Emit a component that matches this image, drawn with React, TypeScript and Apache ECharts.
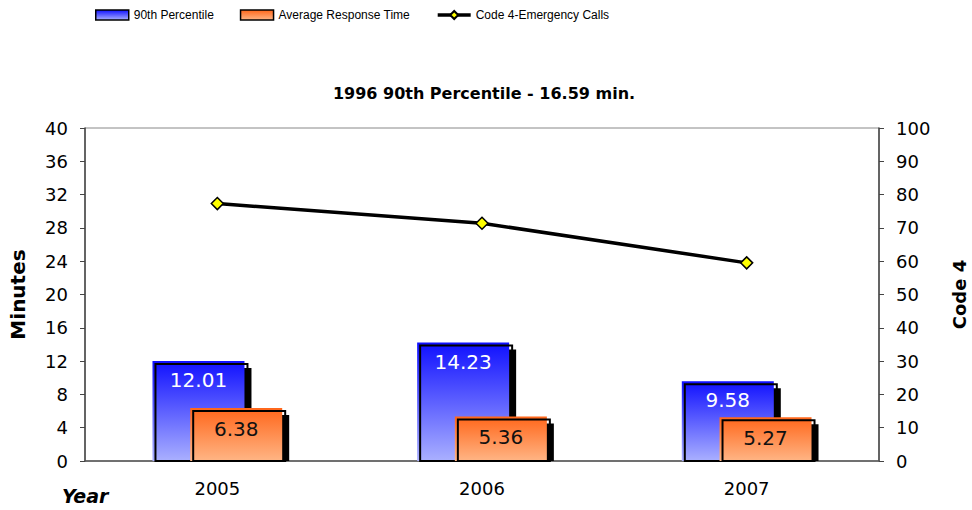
import React, { useEffect, useRef } from "react";
import * as echarts from "echarts";

const categories = ["2005", "2006", "2007"];
const p90Values = [12.01, 14.23, 9.58];
const avgValues = [6.38, 5.36, 5.27];
const code4Values = [77.3, 71.4, 59.5];

const seriesNames = ["90th Percentile", "Average Response Time", "Code 4-Emergency Calls"];
const titleText = "1996 90th Percentile - 16.59 min.";

const BAR_W = 92;
const GAP_RATIO = -0.59;
const FONT = "DejaVu Sans";

export default function App() {
  const ref = useRef<HTMLDivElement>(null);

  useEffect(() => {
    document.body.style.margin = "0";
    const chart = echarts.init(ref.current!, null, { renderer: "svg" });

    const dist = BAR_W + BAR_W * GAP_RATIO; // center-to-center distance
    const offs = [-dist / 2, dist / 2];

    const decoSeries = (values: number[], k: number, kind: "shadow" | "outline", z: number) => ({
      type: "custom",
      silent: true,
      z,
      xAxisIndex: 0,
      yAxisIndex: 0,
      data: values.map((v, i) => [i, v]),
      renderItem: (params: any, api: any) => {
        const idx = api.value(0);
        const v = api.value(1);
        const top = api.coord([idx, v]);
        const base = api.coord([idx, 0]);
        const x = top[0] + offs[k] - BAR_W / 2;
        if (kind === "shadow") {
          return {
            type: "rect",
            shape: { x: x + 7, y: top[1] + 7, width: BAR_W, height: base[1] - top[1] - 7 },
            style: { fill: "#000" },
          };
        }
        return {
          type: "rect",
          shape: { x: x + 3, y: top[1] + 3, width: BAR_W, height: base[1] - top[1] - 3 },
          style: { fill: "none", stroke: "#000", lineWidth: 2 },
        };
      },
    });

    const blueGrad = new echarts.graphic.LinearGradient(0, 0, 0, 1, [
      { offset: 0, color: "#1010ff" },
      { offset: 1, color: "#aab0ff" },
    ]);
    const orangeGrad = new echarts.graphic.LinearGradient(0, 0, 0, 1, [
      { offset: 0, color: "#ff661a" },
      { offset: 1, color: "#ffb585" },
    ]);

    const option: any = {
      animation: false,
      title: {
        text: titleText,
        left: 479,
        textAlign: "center",
        top: 80,
        textStyle: { fontFamily: FONT, fontWeight: "bold", fontSize: 16, color: "#000" },
      },
      legend: {
        left: 95,
        top: 9,
        padding: 0,
        itemWidth: 33,
        itemHeight: 10,
        itemGap: 26,
        textStyle: { fontFamily: "Liberation Sans", fontSize: 12, color: "#000" },
        data: [
          { name: seriesNames[0], icon: "rect", itemStyle: { borderColor: "#000", borderWidth: 1.5 } },
          { name: seriesNames[1], icon: "rect", itemStyle: { borderColor: "#000", borderWidth: 1.5 } },
          { name: seriesNames[2], lineStyle: { width: 3.5, color: "#000" } },
        ],
      },
      grid: {
        left: 85,
        right: 93,
        top: 128,
        bottom: 49,
        containLabel: false,
        outerBoundsMode: "none",
        show: true,
        borderColor: "#888",
        borderWidth: 1,
      },
      xAxis: {
        type: "category",
        data: categories,
        boundaryGap: true,
        axisLine: { lineStyle: { color: "#555", width: 1.5 } },
        axisTick: { length: 6, lineStyle: { color: "#555" } },
        axisLabel: { fontFamily: FONT, fontSize: 18, color: "#000", margin: 18 },
      },
      yAxis: [
        {
          type: "value",
          min: 0,
          max: 40,
          interval: 4,
          name: "Minutes",
          nameLocation: "middle",
          nameRotate: 90,
          nameGap: 57,
          nameTextStyle: { fontFamily: FONT, fontWeight: "bold", fontSize: 20, color: "#000" },
          axisLine: { show: true, lineStyle: { color: "#444", width: 1.5 } },
          axisTick: { show: true, length: 5, lineStyle: { color: "#444" } },
          axisLabel: { fontFamily: FONT, fontSize: 18, color: "#000", margin: 17 },
          splitLine: { show: false },
        },
        {
          type: "value",
          min: 0,
          max: 100,
          interval: 10,
          position: "right",
          name: "Code 4",
          nameLocation: "middle",
          nameRotate: 90,
          nameGap: 71,
          nameTextStyle: { fontFamily: FONT, fontWeight: "bold", fontSize: 18, color: "#000" },
          axisLine: { show: true, lineStyle: { color: "#444", width: 1.5 } },
          axisTick: { show: true, length: 5, lineStyle: { color: "#444" } },
          axisLabel: { fontFamily: FONT, fontSize: 18, color: "#000", margin: 17 },
          splitLine: { show: false },
        },
      ],
      graphic: [
        {
          type: "text",
          left: 62,
          top: 486,
          style: { text: "Year", font: `italic bold 19px ${FONT}`, fill: "#000" },
        },
      ],
      series: [
        decoSeries(p90Values, 0, "shadow", 1),
        {
          name: seriesNames[0],
          type: "bar",
          z: 2,
          barWidth: BAR_W,
          barGap: `${GAP_RATIO * 100}%`,
          data: p90Values,
          itemStyle: { color: blueGrad },
          label: {
            show: true,
            position: "insideTop",
            distance: 9,
            color: "#fff",
            fontFamily: FONT,
            fontSize: 20,
            formatter: (p: any) => p.value.toFixed(2),
          },
        },
        decoSeries(p90Values, 0, "outline", 3),
        decoSeries(avgValues, 1, "shadow", 4),
        {
          name: seriesNames[1],
          type: "bar",
          z: 5,
          barWidth: BAR_W,
          barGap: `${GAP_RATIO * 100}%`,
          data: avgValues,
          itemStyle: { color: orangeGrad },
          label: {
            show: true,
            position: "insideTop",
            distance: 11,
            color: "#111",
            fontFamily: FONT,
            fontSize: 20,
            formatter: (p: any) => p.value.toFixed(2),
          },
        },
        decoSeries(avgValues, 1, "outline", 6),
        {
          name: seriesNames[2],
          type: "line",
          z: 10,
          yAxisIndex: 1,
          data: code4Values,
          symbol: "diamond",
          symbolSize: 12,
          lineStyle: { color: "#000", width: 3.5 },
          itemStyle: { color: "#ffff00", borderColor: "#000", borderWidth: 1.5 },
        },
      ],
    };

    chart.setOption(option);
    return () => chart.dispose();
  }, []);

  return <div ref={ref} style={{ width: 972, height: 510 }} />;
}
